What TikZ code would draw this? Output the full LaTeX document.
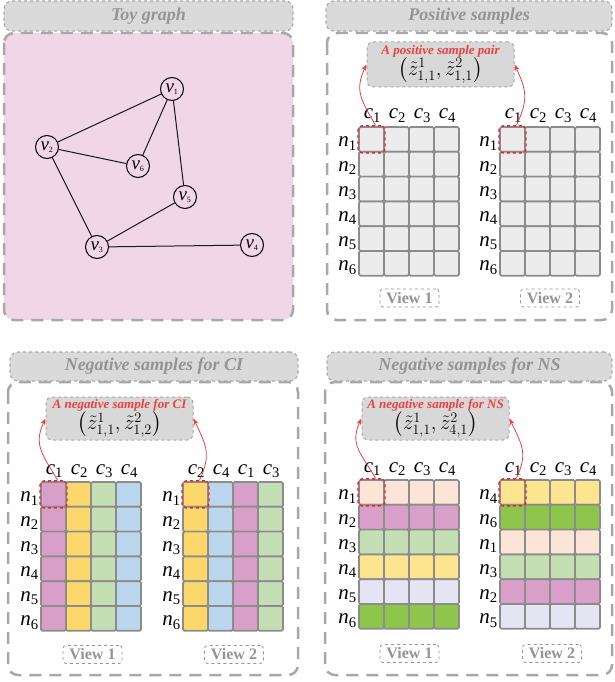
\documentclass[tikz,border=0pt]{standalone}
\usepackage{fontspec}
\setmainfont{Liberation Serif}
\usepackage{amsmath}
\usepackage{xcolor}
\usepackage{tikz}
\usetikzlibrary{arrows.meta, positioning}

\definecolor{panelline}{RGB}{168,168,168}
\definecolor{titlefill}{RGB}{218,218,218}
\definecolor{titletext}{RGB}{148,148,148}
\definecolor{pairfill}{RGB}{216,216,216}
\definecolor{toybg}{RGB}{240,214,231}
\definecolor{cellgray}{RGB}{236,236,236}
\definecolor{cellline}{RGB}{140,140,140}
\definecolor{pairred}{RGB}{238,64,64}
\definecolor{hlred}{RGB}{232,36,43}
\definecolor{pinkc}{RGB}{216,160,201}
\definecolor{yellowc}{RGB}{252,216,107}
\definecolor{greenc}{RGB}{197,223,180}
\definecolor{bluec}{RGB}{186,215,238}
\definecolor{peachc}{RGB}{252,228,214}
\definecolor{yellowl}{RGB}{253,228,142}
\definecolor{lavc}{RGB}{228,228,242}
\definecolor{greend}{RGB}{141,198,74}

% italic letter with upright index
\newcommand{\idx}[2]{{\itshape #1}\textsubscript{\upshape #2}}

% feature grid: #1 name, #2 left, #3 top, #4 columns, #5 rows, #6 cell fill
\newcommand{\featgrid}[6]{%
  \foreach \cl/\cc [count=\j] in {#4} {
    \node[collabel, anchor=base] (#1-c\j) at ({#2+25*\j-11.5}, {-#3+8}) {\idx{c}{\cl}};
    \foreach \rl/\rc [count=\i] in {#5} {
      \node[cell, fill=#6] (#1-\i-\j) at ({#2+25*\j-12.5}, {-#3-24.8*\i+12.4}) {};
    }
  }
  \foreach \rl/\rc [count=\i] in {#5}
    \node[rowlabel, anchor=base east] (#1-n\i) at ({#2-2}, {-#3-24.8*\i+4.9}) {\idx{n}{\rl}};
}

\begin{document}
\begin{tikzpicture}[
    x=1pt, y=1pt,
    >=Stealth,
    titlebox/.style={rectangle, draw=panelline, dashed, line width=1.2pt, rounded corners=8pt, fill=titlefill, text=titletext, inner sep=0pt, font=\fontsize{18}{18}\selectfont\bfseries\itshape},
    panel/.style={draw=panelline, dash pattern=on 12pt off 8pt, line width=2.5pt, rounded corners=10pt},
    vertex/.style={circle, draw=black, line width=1pt, minimum size=23pt, inner sep=0pt, font=\fontsize{19}{19}\selectfont},
    edge/.style={line width=1pt, draw=black!90},
    cell/.style={rectangle, draw=cellline, line width=1.7pt, rounded corners=1.5pt, minimum width=25pt, minimum height=24.8pt, inner sep=0pt},
    collabel/.style={font=\fontsize{21}{21}\selectfont, inner sep=0pt},
    rowlabel/.style={font=\fontsize{21}{21}\selectfont, inner sep=0pt},
    hlbox/.style={rectangle, draw=hlred, dashed, line width=1.4pt, rounded corners=4pt, minimum width=27pt, minimum height=27pt, inner sep=0pt},
    pairbox/.style={rectangle, draw=panelline, dashed, line width=1pt, rounded corners=6pt, fill=pairfill, inner sep=0pt, minimum width=147pt},
    pairlabel/.style={inner sep=0pt, text=pairred, font=\fontsize{13}{13}\selectfont\bfseries\itshape},
    pairformula/.style={inner sep=0pt, font=\fontsize{19.5}{19.5}\selectfont},
    pairarrow/.style={->, draw=pairred, line width=0.8pt, looseness=1.2},
    viewbox/.style={rectangle, draw=titletext, dashed, line width=0.8pt, rounded corners=3pt, fill=white, text=titletext, inner sep=0pt, minimum width=59pt, minimum height=18pt, font=\fontsize{16}{16}\selectfont\bfseries}
]
\useasboundingbox (0,0) rectangle (614,-682);

% =============================================================
% Panel frames & titles
% =============================================================
\draw[panel, fill=toybg] (4,-33) rectangle (293,-320);
\draw[panel] (327,-33) rectangle (612,-320);
\draw[panel] (8,-382) rectangle (298,-675);
\draw[panel] (325,-382) rectangle (612,-675);

\node[titlebox, minimum width=289pt, minimum height=30pt] (toy-title) at (148.5,-16) {Toy graph};
\node[titlebox, minimum width=286pt, minimum height=30pt] (pos-title) at (469,-16) {Positive samples};
\node[titlebox, minimum width=288pt, minimum height=29pt] (ci-title) at (154,-366.5) {Negative samples for CI};
\node[titlebox, minimum width=285pt, minimum height=29pt] (ns-title) at (469.5,-366.5) {Negative samples for NS};

% =============================================================
% Toy graph
% =============================================================
\node[vertex] (v1) at (172,-89) {\idx{v}{\fontsize{8}{8}\selectfont 1}};
\node[vertex] (v2) at (47,-147) {\idx{v}{\fontsize{8}{8}\selectfont 2}};
\node[vertex] (v6) at (138,-166) {\idx{v}{\fontsize{8}{8}\selectfont 6}};
\node[vertex] (v5) at (185,-197) {\idx{v}{\fontsize{8}{8}\selectfont 5}};
\node[vertex] (v3) at (97,-247) {\idx{v}{\fontsize{8}{8}\selectfont 3}};
\node[vertex] (v4) at (252,-245) {\idx{v}{\fontsize{8}{8}\selectfont 4}};

\draw[edge] (v1) -- (v2);
\draw[edge] (v1) -- (v6);
\draw[edge] (v1) -- (v5);
\draw[edge] (v2) -- (v6);
\draw[edge] (v2) -- (v3);
\draw[edge] (v3) -- (v5);
\draw[edge] (v3) -- (v4);

% =============================================================
% Positive samples
% =============================================================
\featgrid{pos1}{359}{127}{1/cellgray,2/cellgray,3/cellgray,4/cellgray}{1/x,2/x,3/x,4/x,5/x,6/x}{\cc}
\featgrid{pos2}{500}{127}{1/cellgray,2/cellgray,3/cellgray,4/cellgray}{1/x,2/x,3/x,4/x,5/x,6/x}{\cc}
\node[hlbox] (pos-hl1) at (pos1-1-1) {};
\node[hlbox] (pos-hl2) at (pos2-1-1) {};

\node[pairbox, minimum height=45pt] (pos-pair) at (440.5,-64.5) {};
\node[pairlabel, below=3.5pt of pos-pair.north] (pos-pairlabel) {A positive sample pair};
\node[pairformula, below=0.5pt of pos-pairlabel] (pos-formula) {$\bigl(\tilde{z}^{1}_{1,1},\tilde{z}^{2}_{1,1}\bigr)$};
\draw[pairarrow] ([xshift=4pt]pos-hl1.north) to[out=120, in=245] (pos-pair.west);
\draw[pairarrow] ([xshift=4pt]pos-hl2.north) to[out=65, in=295] (pos-pair.east);

\node[viewbox] (pos-view1) at (409.5,-298) {View 1};
\node[viewbox] (pos-view2) at (550,-298) {View 2};

% =============================================================
% Negative samples for CI (columns shuffled)
% =============================================================
\featgrid{ci1}{41}{482}{1/pinkc,2/yellowc,3/greenc,4/bluec}{1/x,2/x,3/x,4/x,5/x,6/x}{\cc}
\featgrid{ci2}{183}{482}{2/yellowc,4/bluec,1/pinkc,3/greenc}{1/x,2/x,3/x,4/x,5/x,6/x}{\cc}
\node[hlbox] (ci-hl1) at (ci1-1-1) {};
\node[hlbox] (ci-hl2) at (ci2-1-1) {};

\node[pairbox, minimum height=43pt] (ci-pair) at (119.5,-418.5) {};
\node[pairlabel, below=3pt of ci-pair.north] (ci-pairlabel) {A negative sample for CI};
\node[pairformula, below=0pt of ci-pairlabel] (ci-formula) {$\bigl(\tilde{z}^{1}_{1,1},\tilde{z}^{2}_{1,2}\bigr)$};
\draw[pairarrow] ([xshift=4pt]ci-hl1.north) to[out=120, in=245] (ci-pair.west);
\draw[pairarrow] ([xshift=4pt]ci-hl2.north) to[out=65, in=295] (ci-pair.east);

\node[viewbox] (ci-view1) at (92.5,-654.5) {View 1};
\node[viewbox] (ci-view2) at (234,-654.5) {View 2};

% =============================================================
% Negative samples for NS (rows shuffled)
% =============================================================
\featgrid{ns1}{359}{480}{1/x,2/x,3/x,4/x}{1/peachc,2/pinkc,3/greenc,4/yellowl,5/lavc,6/greend}{\rc}
\featgrid{ns2}{500}{480}{1/x,2/x,3/x,4/x}{4/yellowl,6/greend,1/peachc,3/greenc,2/pinkc,5/lavc}{\rc}
\node[hlbox] (ns-hl1) at (ns1-1-1) {};
\node[hlbox] (ns-hl2) at (ns2-1-1) {};

\node[pairbox, minimum height=43pt] (ns-pair) at (435.5,-418.5) {};
\node[pairlabel, below=3pt of ns-pair.north] (ns-pairlabel) {A negative sample for NS};
\node[pairformula, below=0pt of ns-pairlabel] (ns-formula) {$\bigl(\tilde{z}^{1}_{1,1},\tilde{z}^{2}_{4,1}\bigr)$};
\draw[pairarrow] ([xshift=4pt]ns-hl1.north) to[out=120, in=245] (ns-pair.west);
\draw[pairarrow] ([xshift=4pt]ns-hl2.north) to[out=65, in=295] (ns-pair.east);

\node[viewbox] (ns-view1) at (409.5,-653.5) {View 1};
\node[viewbox] (ns-view2) at (552,-653.5) {View 2};

\end{tikzpicture}
\end{document}
